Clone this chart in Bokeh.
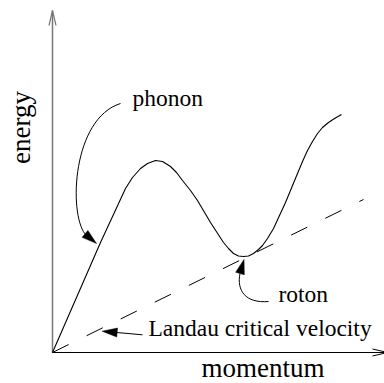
import math
from bokeh.plotting import figure
from bokeh.models import Range1d
from bokeh.embed import file_html
from bokeh.resources import INLINE
from bokeh.core.properties import value

# ---- data (drawing units: 1 unit = 1 px, origin at the axes corner) ----
momentum = [0, 24, 48, 73, 80, 88, 95, 103, 110, 118, 124, 130, 138, 145, 158,
            171, 176, 181, 186, 191, 196, 201, 206, 210, 215, 221, 227, 233,
            245, 250, 255, 260, 265, 270, 276, 282, 289]
energy = [0, 55, 110, 164, 175, 184, 189, 192, 191, 186, 180, 172, 162, 152, 130,
          110, 104, 99, 96.5, 96, 96.5, 99, 103, 107, 114, 124, 137, 150,
          179, 191, 202, 211, 219, 225, 230, 234, 238]

# Landau critical velocity line (tangent from origin to roton minimum)
landau_x = [0, 311]
landau_y = [0, 153]

# axes (arrow tips)
yaxis_tip = (0, 342)
xaxis_tip = (335, 0)

# labels
label_text = ["phonon", "roton", "Landau critical velocity"]
label_x = [80, 226, 96]
label_y = [254.5, 59, 25]

# curved annotation arrows: start, control1, control2, end(head base), head tip
phonon_arrow = [(68, 249), (20, 234), (16, 140), (32.5, 118.6), (44, 109)]
roton_arrow = [(216, 51), (193, 49), (184, 62), (187.5, 79), (191.5, 93)]
# straight annotation arrow: tail, head tip
landau_arrow = [(90, 17.7), (49.7, 21.3)]

HEAD_LEN = 15
HEAD_HW = 4.5


def tri_head(tip, base, hw):
    tx, ty = tip
    bx, by = base
    dx, dy = tx - bx, ty - by
    L = math.hypot(dx, dy)
    nx, ny = -dy / L, dx / L
    return [bx + nx * hw, tx, bx - nx * hw], [by + ny * hw, ty, by - ny * hw]


def vee_head(tip, direction, length, hw):
    tx, ty = tip
    dx, dy = direction
    L = math.hypot(dx, dy)
    ux, uy = dx / L, dy / L
    bx, by = tx - ux * length, ty - uy * length
    nx, ny = -uy, ux
    return [bx + nx * hw, tx, bx - nx * hw], [by + ny * hw, ty, by - ny * hw]


p = figure(width=384, height=383,
           x_range=Range1d(-52, 332), y_range=Range1d(-31, 352),
           output_backend="svg", toolbar_location=None,
           x_axis_type=None, y_axis_type=None, min_border=0)
p.outline_line_color = None
p.background_fill_color = "white"
p.border_fill_color = "white"
for g in p.grid:
    g.visible = False

FONT = value("Liberation Serif")

# axes
p.line([0, yaxis_tip[0]], [0, yaxis_tip[1]], line_color="#777777", line_width=1.5)
vx, vy = vee_head(yaxis_tip, (0, 1), 15, 3.5)
p.line(vx, vy, line_color="#777777", line_width=1.2)
p.line([0, xaxis_tip[0]], [0, xaxis_tip[1]], line_color="black", line_width=1)
vx, vy = vee_head(xaxis_tip, (1, 0), 15, 3.5)
p.line(vx, vy, line_color="black", line_width=1)

# dispersion curve
p.line(momentum, energy, line_color="black", line_width=1.1)

# Landau line
p.line(landau_x, landau_y, line_color="black", line_width=1, line_dash="18 20")

# curved arrows
for arr in (phonon_arrow, roton_arrow):
    (x0, y0), (c0x, c0y), (c1x, c1y), (x1, y1), tip = arr
    p.bezier(x0=[x0], y0=[y0], x1=[x1], y1=[y1], cx0=[c0x], cy0=[c0y],
             cx1=[c1x], cy1=[c1y], line_color="black", line_width=1)
    hx, hy = tri_head(tip, (x1, y1), HEAD_HW)
    p.patch(hx, hy, fill_color="black", line_color="black", line_width=0.5)

# straight arrow
tail, tip = landau_arrow
dx, dy = tail[0] - tip[0], tail[1] - tip[1]
L = math.hypot(dx, dy)
base = (tip[0] + dx / L * HEAD_LEN, tip[1] + dy / L * HEAD_LEN)
p.line([tail[0], base[0]], [tail[1], base[1]], line_color="black", line_width=1)
hx, hy = tri_head(tip, base, HEAD_HW)
p.patch(hx, hy, fill_color="black", line_color="black", line_width=0.5)

# texts
p.text(x=label_x, y=label_y, text=label_text, text_font=FONT,
       text_font_size=value("23.5px"), text_baseline="alphabetic",
       text_align="left", text_color="black")
p.text(x=[210.5], y=[-15], text=["momentum"], text_font=FONT,
       text_font_size=value("27px"), text_baseline="alphabetic",
       text_align="center", text_color="black")
p.text(x=[-31.5], y=[225], text=["energy"], text_font=FONT,
       text_font_size=value("27px"), text_baseline="alphabetic",
       text_align="center", angle=math.pi / 2, text_color="black")

open("out.html", "w").write(file_html(p, INLINE))
